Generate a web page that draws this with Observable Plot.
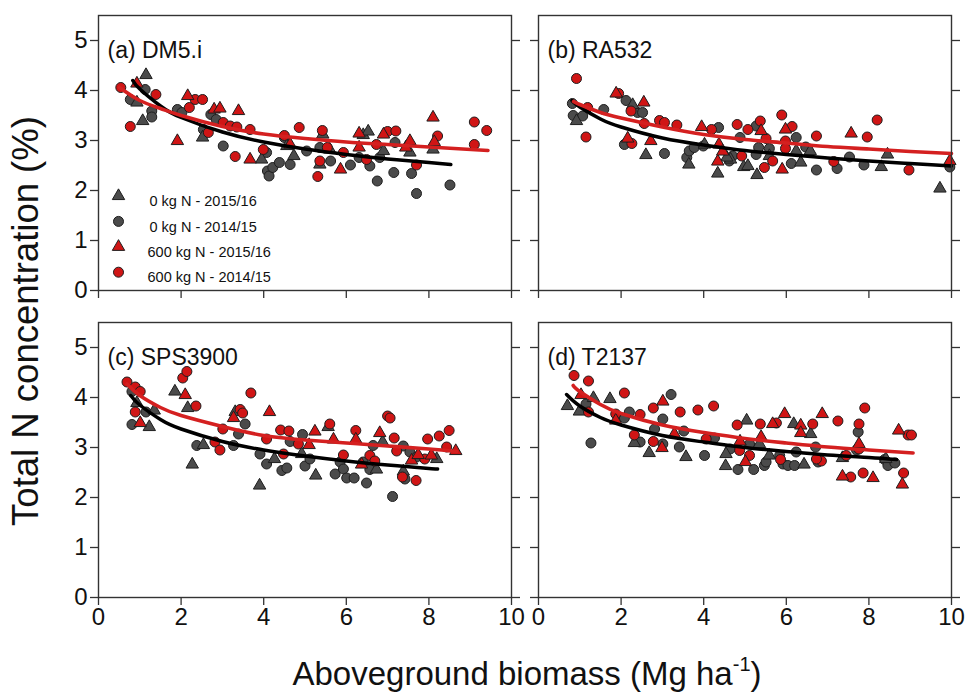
<!DOCTYPE html>
<html>
<head>
<meta charset="utf-8">
<script src="https://cdn.jsdelivr.net/npm/d3@7"></script>
<script src="https://cdn.jsdelivr.net/npm/@observablehq/plot@0.6"></script>
<style>
  body { margin: 0; background: #fff; font-family: "Liberation Sans", Arial, sans-serif; }
  #root { position: relative; width: 971px; height: 697px; overflow: hidden; background: #fff; }
  .panel { position: absolute; }
  #ytitle { position: absolute; left: 26px; top: 321px; transform: translate(-50%, -50%) rotate(-90deg);
            font-size: 36.5px; white-space: nowrap; color: #111; line-height: 1; }
  #xtitle { position: absolute; left: 527px; top: 657px; transform: translateX(-50%);
            font-size: 33px; white-space: nowrap; color: #111; line-height: 1; }
  #xtitle sup { font-size: 20px; vertical-align: 14px; line-height: 0; }
</style>
</head>
<body>
<div id="root">
  <div id="ytitle">Total N concentration (%)</div>
  <div id="xtitle">Aboveground biomass (Mg ha<sup>-1</sup>)</div>
</div>
<script>
// ---------- tick labels / categories ----------
const xTicks = [0, 2, 4, 6, 8, 10];
const yTicks = [0, 1, 2, 3, 4, 5];
const panelTitles = ["(a) DM5.i", "(b) RA532", "(c) SPS3900", "(d) T2137"];
const legendLabels = ["0 kg N - 2015/16", "0 kg N - 2014/15", "600 kg N - 2015/16", "600 kg N - 2014/15"];

// ---------- panel (a) DM5.i ----------
const a_grey_tri = [[1.15,4.31],[0.93,3.76],[1.07,3.39],[2.52,3.06],[3.95,2.62],[4.73,2.69],[5.36,2.52],[5.43,3.12],[5.60,2.82],[6.41,3.11],[6.53,3.18],[6.90,2.79],[7.54,2.76],[8.10,2.82],[4.56,2.89]];
const a_grey_circ = [[0.77,3.82],[1.13,4.02],[1.29,3.59],[1.29,3.47],[1.91,3.62],[2.02,3.56],[2.72,3.52],[2.85,3.42],[2.54,3.22],[3.02,2.89],[4.07,2.76],[4.09,2.39],[4.13,2.29],[4.22,2.46],[4.38,2.56],[4.50,3.06],[4.64,2.52],[5.04,2.79],[5.36,2.86],[5.62,2.59],[6.10,2.51],[6.31,2.66],[6.57,2.49],[6.75,2.19],[6.81,2.66],[7.15,2.36],[7.58,2.34],[7.70,1.94],[8.51,2.11],[7.18,2.96]];
const a_red_tri = [[0.93,4.14],[2.16,3.89],[1.91,2.99],[2.80,3.62],[2.94,3.64],[3.39,3.59],[3.67,2.62],[4.64,2.92],[5.86,2.42],[6.31,2.86],[6.31,3.14],[6.90,3.12],[7.44,2.86],[7.54,2.99],[8.10,3.46],[8.13,2.97]];
const a_red_circ = [[0.54,4.06],[0.77,3.28],[1.39,3.92],[2.20,3.66],[2.34,3.82],[2.52,3.82],[2.66,3.16],[3.02,3.36],[3.19,3.29],[3.31,2.68],[3.35,3.27],[3.67,3.22],[3.99,2.82],[4.50,3.10],[4.86,3.26],[5.31,2.28],[5.42,3.20],[5.54,2.86],[5.93,2.76],[5.36,2.59],[6.49,2.62],[6.73,2.92],[7.00,3.18],[7.20,3.19],[7.70,2.51],[8.21,3.09],[9.10,3.37],[9.10,2.92],[9.40,3.20]];
const a_fit_0N = [[0.83,4.20],[1,4.03],[1.5,3.69],[2,3.46],[3,3.17],[4,2.97],[5,2.83],[6,2.72],[7,2.63],[8,2.56],[8.53,2.52]];
const a_fit_600N = [[0.51,4.06],[1,3.80],[1.5,3.64],[2,3.50],[3,3.28],[4,3.13],[5,3.04],[6,2.97],[7,2.92],[8,2.87],[9.43,2.80]];

// ---------- panel (b) RA532 ----------
const b_grey_tri = [[0.92,3.39],[2.28,3.71],[2.60,2.71],[3.64,2.52],[4.34,2.34],[4.65,2.62],[4.97,2.47],[5.07,2.49],[5.29,2.31],[5.59,2.69],[6.24,2.79],[6.35,2.56],[6.58,2.79],[8.30,2.47],[8.45,2.72],[9.72,2.04],[4.56,2.66],[4.02,2.92]];
const b_grey_circ = [[0.82,3.74],[0.84,3.50],[1.07,3.49],[1.58,3.62],[2.12,3.80],[2.40,3.56],[2.52,3.56],[2.08,2.92],[3.05,2.74],[3.59,2.66],[3.65,2.79],[3.77,2.86],[3.99,2.89],[4.36,3.26],[4.62,2.59],[4.70,2.69],[4.88,3.06],[5.27,3.29],[5.27,2.72],[5.33,2.86],[5.59,2.84],[6.12,2.54],[6.24,3.06],[6.47,2.87],[6.73,2.41],[7.23,2.44],[7.53,2.67],[7.88,2.51],[9.96,2.47]];
const b_red_tri = [[1.88,3.94],[2.55,3.76],[2.16,3.04],[2.72,2.99],[3.95,3.27],[4.37,2.92],[4.34,2.58],[4.46,2.78],[5.39,3.19],[5.90,2.42],[5.98,3.22],[7.57,3.14],[9.96,2.59]];
const b_red_circ = [[0.92,4.24],[1.19,3.66],[1.15,3.07],[1.94,3.94],[2.24,3.59],[2.26,2.94],[2.56,3.34],[2.93,3.40],[3.05,3.36],[3.35,3.31],[4.19,3.22],[4.81,3.32],[4.92,2.69],[5.07,3.22],[5.37,3.39],[5.47,2.46],[5.51,3.04],[5.67,2.59],[5.89,3.51],[5.98,2.99],[5.98,2.84],[6.14,3.28],[6.73,3.09],[7.15,2.58],[7.96,3.07],[8.20,3.41],[8.97,2.41]];
const b_fit_0N = [[0.81,3.80],[1,3.67],[1.5,3.43],[2,3.27],[3,3.05],[4,2.91],[5,2.80],[6,2.72],[7,2.65],[8,2.59],[9,2.54],[10,2.49]];
const b_fit_600N = [[0.85,3.78],[1,3.72],[1.5,3.56],[2,3.45],[3,3.27],[4,3.12],[5,3.02],[6,2.95],[7,2.88],[8,2.83],[9,2.78],[10,2.74]];

// ---------- panel (c) SPS3900 ----------
const c_grey_tri = [[0.93,3.89],[1.23,3.41],[1.35,3.74],[1.85,4.12],[2.16,3.79],[2.27,2.66],[2.54,3.05],[3.31,3.71],[3.90,2.24],[4.26,2.77],[4.92,2.87],[5.26,2.44],[5.56,3.41],[6.73,2.56],[6.88,3.11],[7.38,2.52],[8.19,2.77]];
const c_grey_circ = [[0.81,4.12],[0.81,3.46],[1.15,3.71],[2.38,3.04],[3.27,3.04],[3.55,3.47],[3.39,3.27],[3.91,2.87],[4.07,2.67],[4.44,2.54],[4.56,2.59],[4.64,3.12],[4.94,3.26],[5.00,2.63],[5.12,2.77],[5.73,2.47],[5.85,2.71],[5.93,2.57],[6.01,2.39],[6.19,2.39],[6.49,2.29],[6.41,2.71],[6.57,2.56],[6.65,3.04],[7.12,2.02],[7.38,3.03],[7.42,2.37],[7.54,2.91],[7.70,2.81]];
const c_red_tri = [[1.01,3.49],[2.10,4.05],[3.27,3.59],[4.14,3.71],[5.10,3.05],[5.24,3.32],[5.69,3.16],[6.23,3.16],[6.37,2.66],[6.81,3.29],[7.58,2.74],[7.74,2.85],[8.06,2.84],[8.65,2.93]];
const c_red_circ = [[0.69,4.31],[0.89,4.21],[1.01,4.12],[0.89,3.71],[2.04,4.39],[2.14,4.52],[2.36,3.83],[2.82,3.11],[2.94,2.95],[3.01,3.37],[3.43,3.76],[3.49,3.69],[3.69,4.09],[4.07,3.17],[4.41,3.35],[4.61,3.33],[4.48,2.87],[4.84,3.07],[5.60,3.47],[5.93,2.85],[6.23,3.34],[6.57,2.84],[6.69,2.73],[7.00,3.63],[7.06,3.59],[7.16,3.19],[7.22,2.93],[7.36,2.41],[7.69,2.34],[7.90,2.77],[7.97,3.17],[8.25,3.23],[8.49,3.34],[8.43,3.01]];
const c_fit_0N = [[0.78,4.04],[1,3.85],[1.5,3.56],[2,3.37],[3,3.12],[4,2.95],[5,2.83],[6,2.73],[7,2.65],[8,2.58],[8.21,2.57]];
const c_fit_600N = [[0.69,4.27],[1,4.04],[1.5,3.80],[2,3.64],[3,3.42],[4,3.24],[5,3.15],[6,3.09],[7,3.03],[8,2.97],[8.67,2.92]];

// ---------- panel (d) T2137 ----------
const d_grey_tri = [[0.70,3.83],[0.99,3.72],[1.33,3.99],[1.73,3.97],[2.32,3.09],[2.68,2.89],[3.57,2.81],[4.53,2.63],[4.54,2.87],[5.04,3.54],[5.35,3.07],[5.59,2.84],[6.18,3.47],[6.43,2.66],[6.59,3.27],[7.36,2.79],[8.41,2.77]];
const d_grey_circ = [[1.15,3.87],[1.27,3.09],[2.08,3.59],[2.20,3.71],[2.46,3.11],[2.81,3.37],[3.01,3.57],[3.01,3.07],[3.21,4.06],[3.41,3.01],[3.52,3.33],[4.02,2.84],[4.26,3.19],[4.64,2.97],[4.83,2.56],[5.11,3.07],[5.21,2.56],[5.47,2.64],[5.51,2.71],[5.84,2.84],[5.92,2.67],[6.04,2.64],[6.20,2.64],[6.24,2.91],[6.71,3.01],[6.77,2.71],[7.74,3.31],[7.70,2.95],[8.38,2.76],[8.46,2.64],[8.63,2.69]];
const d_red_tri = [[1.03,4.05],[1.87,3.54],[3.01,3.92],[2.99,2.99],[3.29,3.27],[4.88,3.12],[5.01,2.71],[5.39,3.21],[5.67,3.47],[5.96,3.67],[6.35,3.44],[6.35,3.29],[6.87,3.67],[7.36,2.42],[7.76,3.07],[8.10,2.39],[8.72,3.34],[8.81,2.26]];
const d_red_circ = [[0.86,4.44],[1.21,4.33],[1.21,3.71],[2.08,4.09],[1.87,3.67],[2.32,3.25],[2.46,3.66],[2.78,3.79],[2.78,3.12],[3.43,3.71],[3.86,3.75],[4.24,3.83],[4.06,3.17],[4.81,3.45],[4.87,2.94],[5.11,2.84],[5.37,3.47],[5.76,3.49],[5.86,2.76],[6.64,3.47],[6.85,2.73],[6.73,2.77],[7.25,3.53],[7.45,2.84],[7.76,3.47],[7.90,3.79],[7.76,2.97],[7.86,2.49],[7.56,2.41],[8.84,2.49],[8.95,3.25],[9.03,3.25]];
const d_fit_0N = [[0.68,4.06],[1,3.83],[1.5,3.60],[2,3.45],[3,3.24],[4,3.11],[5,3.00],[6,2.92],[7,2.85],[8,2.80],[8.67,2.76]];
const d_fit_600N = [[0.84,4.24],[1,4.12],[1.5,3.86],[2,3.68],[3,3.45],[4,3.30],[5,3.18],[6,3.09],[7,3.01],[8,2.95],[9.07,2.89]];

// ---------- styling ----------
const GREY = "#4b4b4b", RED = "#d01515", OUT = "#1e1e1e", AXIS = "#333";
const INNER_W = 413, INNER_H = 275;

const panels = [
  {title: panelTitles[0], gt: a_grey_tri, gc: a_grey_circ, rt: a_red_tri, rc: a_red_circ, f0: a_fit_0N, f6: a_fit_600N, left: 98.3, top: 14.5, yLab: true,  xLab: false, legend: true},
  {title: panelTitles[1], gt: b_grey_tri, gc: b_grey_circ, rt: b_red_tri, rc: b_red_circ, f0: b_fit_0N, f6: b_fit_600N, left: 537.8, top: 14.5, yLab: false, xLab: false, legend: false},
  {title: panelTitles[2], gt: c_grey_tri, gc: c_grey_circ, rt: c_red_tri, rc: c_red_circ, f0: c_fit_0N, f6: c_fit_600N, left: 98.3, top: 322, yLab: true,  xLab: true,  legend: false},
  {title: panelTitles[3], gt: d_grey_tri, gc: d_grey_circ, rt: d_red_tri, rc: d_red_circ, f0: d_fit_0N, f6: d_fit_600N, left: 537.8, top: 322, yLab: false, xLab: true,  legend: false}
];

const legendStyles = [
  {symbol: "triangle", fill: GREY},
  {symbol: "circle", fill: GREY},
  {symbol: "triangle", fill: RED},
  {symbol: "circle", fill: RED}
];

const root = document.getElementById("root");
const X = d => d[0], Y = d => d[1];

for (const p of panels) {
  const mL = p.yLab ? 50 : 12, mR = 12, mT = 5, mB = p.xLab ? 42 : 12;
  const marks = [
    Plot.dot(p.gc, {x: X, y: Y, r: 5, fill: GREY, stroke: OUT, strokeWidth: 1}),
    Plot.dot(p.gt, {x: X, y: Y, symbol: "triangle", r: 4.6, fill: GREY, stroke: OUT, strokeWidth: 1}),
    Plot.dot(p.rc, {x: X, y: Y, r: 5, fill: RED, stroke: OUT, strokeWidth: 1}),
    Plot.dot(p.rt, {x: X, y: Y, symbol: "triangle", r: 4.6, fill: RED, stroke: OUT, strokeWidth: 1}),
    Plot.line(p.f0, {x: X, y: Y, stroke: "#000", strokeWidth: 3.5, curve: "natural"}),
    Plot.line(p.f6, {x: X, y: Y, stroke: "#d42020", strokeWidth: 3.6, curve: "natural"}),
    Plot.frame({stroke: AXIS, strokeWidth: 1.4}),
    Plot.axisX(xTicks, {anchor: "bottom", tickSize: 8, tickPadding: 2, fontSize: 24, stroke: AXIS, strokeWidth: 1.3,
      tickFormat: p.xLab ? d3.format("d") : () => "", label: null}),
    Plot.axisY(yTicks, {anchor: "left", tickSize: 8, tickPadding: 3, fontSize: 24, stroke: AXIS, strokeWidth: 1.3,
      tickFormat: p.yLab ? d3.format("d") : () => "", label: null}),
    Plot.axisY(yTicks, {anchor: "right", tickSize: 8, stroke: AXIS, strokeWidth: 1.3, tickFormat: () => "", label: null}),
    Plot.text([p.title], {frameAnchor: "top-left", dx: 9, dy: 26, text: d => d, textAnchor: "start", fontSize: 23, fill: "#111"})
  ];
  if (p.legend) {
    legendLabels.forEach((lab, i) => {
      const st = legendStyles[i];
      marks.push(Plot.dot([lab], {frameAnchor: "top-left", dx: 20, dy: 180.5 + i * 25.4, symbol: st.symbol,
        r: st.symbol === "triangle" ? 4.6 : 5, fill: st.fill, stroke: OUT, strokeWidth: 1}));
      marks.push(Plot.text([lab], {frameAnchor: "top-left", dx: i < 2 ? 51 : 49, dy: 180.5 + i * 25.4, text: d => d,
        textAnchor: "start", fontSize: 14.5, fill: "#111"}));
    });
  }
  const chart = Plot.plot({
    width: mL + INNER_W + mR,
    height: mT + INNER_H + mB,
    marginLeft: mL, marginRight: mR, marginTop: mT, marginBottom: mB,
    x: {domain: [0, 10], axis: null},
    y: {domain: [0, 5.5], axis: null},
    style: {background: "transparent", overflow: "visible", fontFamily: "'Liberation Sans', Arial, sans-serif", color: "#111"},
    marks
  });
  chart.classList.add("panel");
  chart.style.left = (p.left - mL) + "px";
  chart.style.top = (p.top - mT) + "px";
  root.appendChild(chart);
}
</script>
</body>
</html>
